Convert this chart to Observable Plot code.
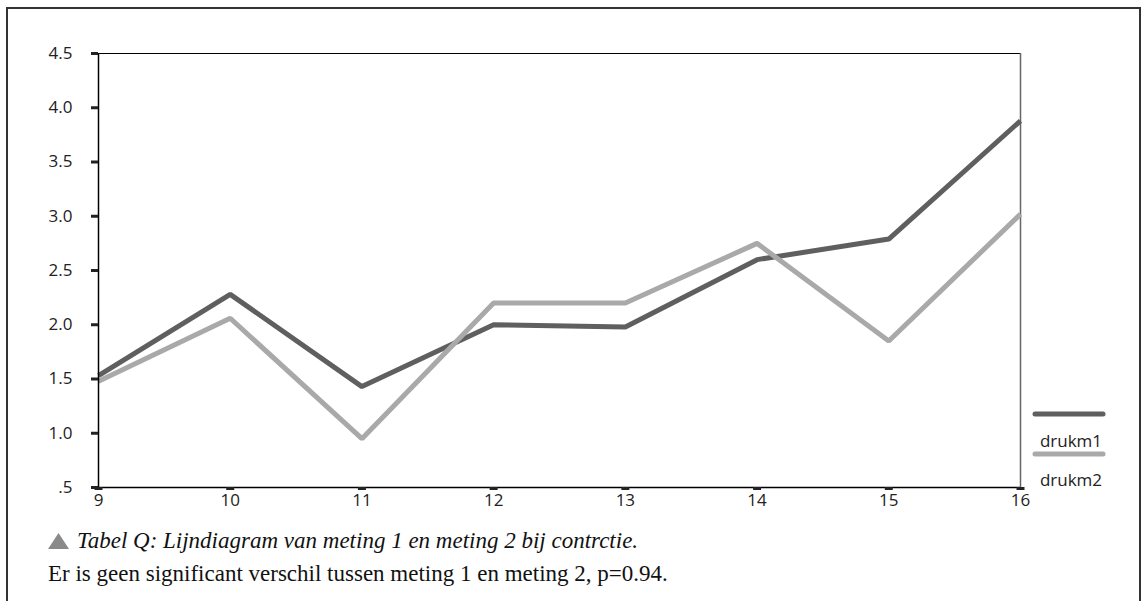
<!DOCTYPE html>
<html>
<head>
<meta charset="utf-8">
<script src="https://cdn.jsdelivr.net/npm/d3@7"></script>
<script src="https://cdn.jsdelivr.net/npm/@observablehq/plot@0.6"></script>
<style>
  html, body { margin: 0; padding: 0; background: #fff; width: 1142px; height: 601px; overflow: hidden; }
  #frame { position: absolute; left: 6px; top: 7px; width: 1131px; height: 620px; border: 2px solid #333; border-bottom: none; }
  #chart { position: absolute; left: 0; top: 0; }
  #legend { position: absolute; left: 1026px; top: 400px; width: 90px; }
  .cap { position: absolute; white-space: nowrap; font-family: "Liberation Serif", serif; font-size: 23px; line-height: 23px; color: #111; }
</style>
</head>
<body>
<div id="frame"></div>
<div id="chart"></div>
<div id="legend"></div>
<div class="cap" style="left:48px; top:529px;"><svg width="21" height="16" style="position:absolute; left:0; top:4px;"><polygon points="10.5,0 21,16 0,16" fill="#8a8a8a"></polygon></svg><span style="position:absolute; left:29px; top:0; font-style:italic;">Tabel Q: Lijndiagram van meting 1 en meting 2 bij contrctie.</span></div>
<div class="cap" style="left:48px; top:562px;">Er is geen significant verschil tussen meting 1 en meting 2, p=0.94.</div>
<script>
const years = [9, 10, 11, 12, 13, 14, 15, 16];
const drukm1 = [1.53, 2.28, 1.43, 2.00, 1.98, 2.60, 2.79, 3.88];
const drukm2 = [1.48, 2.06, 0.95, 2.20, 2.20, 2.75, 1.85, 3.02];
const seriesNames = ["drukm1", "drukm2"];
const seriesColors = ["#5f5f5f", "#a9a9a9"];
const yTicks = [0.5, 1, 1.5, 2, 2.5, 3, 3.5, 4, 4.5];
const yTickLabels = [".5", "1.0", "1.5", "2.0", "2.5", "3.0", "3.5", "4.0", "4.5"];
const xTickLabels = ["9", "10", "11", "12", "13", "14", "15", "16"];

const data = [];
years.forEach((x, i) => {
  data.push({x, y: drukm1[i], s: seriesNames[0]});
  data.push({x, y: drukm2[i], s: seriesNames[1]});
});

const chart = Plot.plot({
  width: 1142,
  height: 530,
  marginLeft: 98,
  marginRight: 122,
  marginTop: 53,
  marginBottom: 43,
  style: {fontFamily: "'Open Sans', sans-serif", fontSize: "16px", color: "#222", background: "transparent"},
  x: {domain: [9, 16]},
  y: {domain: [0.5, 4.5]},
  color: {domain: seriesNames, range: seriesColors},
  marks: [
    Plot.ruleY([4.5], {stroke: "#000", strokeWidth: 1}),
    Plot.ruleX([16], {stroke: "#666", strokeWidth: 1.5}),
    Plot.line(data, {x: "x", y: "y", z: "s", stroke: "s", strokeWidth: 5, strokeLinejoin: "miter", strokeLinecap: "butt"}),
    Plot.ruleX([9], {stroke: "#000", strokeWidth: 1.5}),
    Plot.ruleY([0.5], {stroke: "#000", strokeWidth: 1.5}),
    Plot.axisY({ticks: yTicks, tickFormat: d => yTickLabels[yTicks.indexOf(d)], tickSize: 7, tickPadding: 19, strokeWidth: 3, strokeOpacity: 1, fontSize: 17, fill: "#222", label: null}),
    Plot.axisX({ticks: years, tickFormat: d => xTickLabels[years.indexOf(d)], tickSize: 3, tickPadding: 3, strokeWidth: 8, strokeOpacity: 1, fontSize: 17, fill: "#222", label: null})
  ]
});
document.getElementById("chart").appendChild(chart);

// legend
const lg = d3.select("#legend");
const svg = lg.append("svg").attr("width", 90).attr("height", 95).style("position", "absolute").style("left", 0).style("top", 0);
seriesNames.forEach((name, i) => {
  const y0 = [14, 54][i];
  svg.append("line").attr("x1", 9).attr("x2", 77).attr("y1", y0).attr("y2", y0)
    .attr("stroke", seriesColors[i]).attr("stroke-width", 5).attr("stroke-linecap", "round");
  svg.append("text").attr("x", 45).attr("y", [40, 79][i]).attr("text-anchor", "middle")
    .attr("dominant-baseline", "central").attr("fill", "#222")
    .style("font-family", "'Open Sans', sans-serif").style("font-size", "17px").text(name);
});
</script>
</body>
</html>
